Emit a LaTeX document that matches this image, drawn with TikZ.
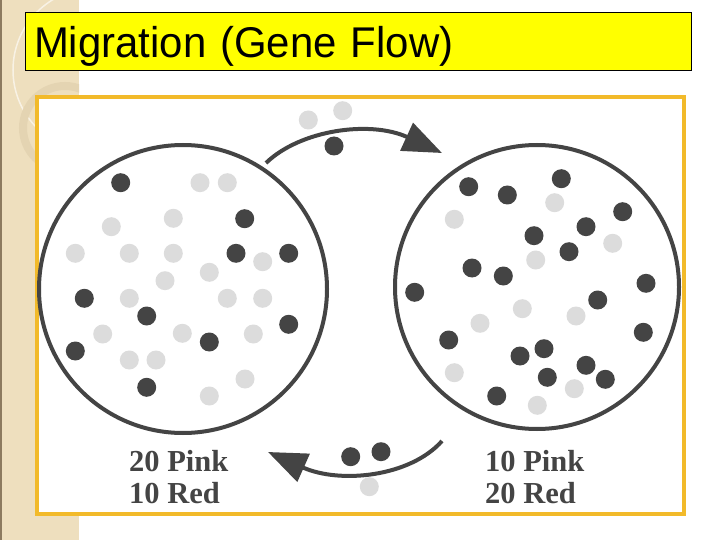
\documentclass[tikz,border=0pt]{standalone}
\usepackage{fontspec}
\setmainfont{Liberation Serif}
\newfontfamily\titlefont{Liberation Sans}
\usetikzlibrary{arrows.meta,positioning}
\definecolor{slidebeige}{RGB}{238,223,190}
\definecolor{slidering}{RGB}{228,212,178}
\definecolor{slideedge}{RGB}{140,122,95}
\definecolor{framegold}{RGB}{242,186,42}
\definecolor{titleyellow}{RGB}{255,255,0}
\definecolor{inkgray}{RGB}{68,68,68}
\definecolor{pinkgray}{RGB}{220,220,220}
\tikzset{
  titlebox/.style={draw=black, fill=titleyellow, line width=1pt, anchor=north west, align=left,
                   text width=649pt, text height=44.7pt, text depth=13.3pt, inner xsep=8.5pt, inner ysep=0pt,
                   font=\titlefont\fontsize{43}{48}\selectfont},
  popcircle/.style={circle, draw=inkgray, line width=4pt, inner sep=0pt},
  reddot/.style={circle, fill=inkgray, inner sep=0pt, minimum size=19pt},
  pinkdot/.style={circle, fill=pinkgray, inner sep=0pt, minimum size=19pt},
  countlabel/.style={anchor=base west, inner sep=0pt, text=inkgray, font=\fontsize{30.5}{34}\selectfont\bfseries},
  migrate/.style={-{Triangle[length=39pt, width=30pt]}, line width=4pt, draw=inkgray},
}
\begin{document}
\begin{tikzpicture}[x=1pt, y=-1pt]
  \useasboundingbox (0,0) rectangle (720,540);
  \fill[white] (0,0) rectangle (720,540);
  % slide side strip
  \fill[slidebeige] (0,0) rectangle (79,540);
  \draw[slideedge, line width=1.5pt] (0.75,0) -- (0.75,540);
  \begin{scope}
    \clip (0,0) rectangle (79,540);
    \draw[white, opacity=0.6, line width=1.5pt] (95,70) circle (82pt);
    \draw[slidering, line width=8pt] (65,128) circle (42pt);
  \end{scope}
  \node[titlebox] (title) at (25,12) {\scalebox{0.975}[1]{Migration (Gene Flow)}};
  \draw[framegold, fill=white, line width=4pt] (37,97) rectangle (684,514);

  \node[popcircle, minimum size=288pt] (left) at (183,289) {};
  \node[popcircle, minimum size=284pt] (right) at (537,287) {};

  \foreach \px/\py [count=\i] in {120.7/182.7, 244.7/218.7, 236/253.3, 288.7/253.3, 84.3/298.3,
      146.7/316, 288.7/324.3, 209.3/342, 75.3/351, 146.7/387.3}
    \node[reddot] (lr\i) at (\px,\py) {};
  \foreach \px/\py [count=\i] in {200/182.7, 227.3/182.7, 173.3/218.3, 111.3/226.7, 75.3/253.3,
      129.3/253.3, 173.3/253.3, 262.7/261.7, 209.3/272.3, 165/280.7, 129.3/298.3, 227.3/298.3,
      262.7/298.3, 102.7/334, 182.3/333.3, 253.3/334, 129.3/360, 156/360, 245/379, 209.3/396}
    \node[pinkdot] (lp\i) at (\px,\py) {};

  \foreach \px/\py [count=\i] in {468.7/186.7, 507.3/195, 561.3/178.7, 622.7/211.7, 586/226.7,
      534/235.7, 569/251.7, 472/268, 503.3/276, 414.7/292.3, 646/283.3, 597.7/300, 448.7/340,
      520/356, 544/348.7, 586/365.3, 547.3/377.3, 605.3/379.3, 643.3/332.3, 496.7/396}
    \node[reddot] (rr\i) at (\px,\py) {};
  \foreach \px/\py [count=\i] in {454.3/219.3, 554.7/202.7, 612.7/243.3, 535.7/260, 522.3/308.7,
      480/323.3, 576/316, 454.3/372.7, 574.3/388.7, 537.3/405.3}
    \node[pinkdot] (rp\i) at (\px,\py) {};

  % migrants between the two populations
  \node[pinkdot] (tp1) at (308.3,120) {};
  \node[pinkdot] (tp2) at (342.7,110.7) {};
  \node[reddot] (tr1) at (334,146) {};
  \node[reddot] (br1) at (350.7,456.7) {};
  \node[reddot] (br2) at (381,451.7) {};
  \node[pinkdot] (bp1) at (369.3,486.7) {};

  \coordinate (topstart) at (266,163);
  \coordinate (topend) at (442,153);
  \coordinate (botstart) at (442,441);
  \coordinate (botend) at (268,452);
  \draw[migrate] (topstart) .. controls (300,130) and (370,120) .. (topend);
  \draw[migrate] (botstart) .. controls (410,477) and (340,484) .. (botend);

  \node[countlabel] (lpink) at (129,471.5) {20 Pink};
  \node[countlabel] (lred) at (129,503.5) {10 Red};
  \node[countlabel] (rpink) at (485,471.5) {10 Pink};
  \node[countlabel] (rred) at (485,503.5) {20 Red};
\end{tikzpicture}
\end{document}
